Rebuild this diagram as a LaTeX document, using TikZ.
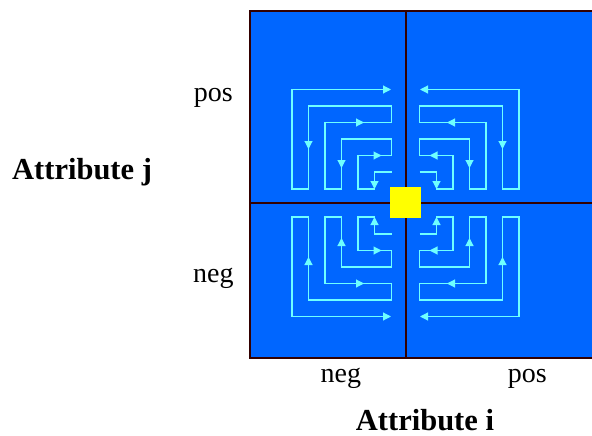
\documentclass[tikz,border=0pt]{standalone}
\usepackage{fontspec}
\setmainfont{Liberation Serif}
\usetikzlibrary{arrows.meta}
\definecolor{bgblue}{RGB}{0,102,255}
\definecolor{edge}{RGB}{51,0,0}
\definecolor{flow}{RGB}{110,255,255}
\definecolor{hub}{RGB}{255,255,0}
\tikzset{
  flowline/.style={draw=flow, line width=1.1pt, line join=miter},
  flowtip/.style={draw=flow, line width=1.1pt, -{Triangle[length=8pt,width=8pt,fill=flow]}},
  axislabel/.style={inner sep=0pt, font=\fontsize{28}{28}\selectfont},
  titlelabel/.style={inner sep=0pt, font=\fontsize{30.5}{30.5}\selectfont\bfseries},
}
\newcommand{\spiralquad}{%
  \draw[flowline] (14,31) -- (31,31) -- (31,14) -- (47.5,14) -- (47.5,47.5) -- (14,47.5)
    -- (14,64) -- (64,64) -- (64,14) -- (80.5,14) -- (80.5,80.5) -- (14,80.5)
    -- (14,97) -- (97,97) -- (97,14) -- (113.5,14) -- (113.5,113.5) -- (20,113.5);
  \draw[flowtip] (31,21) -- (31,14);
  \draw[flowtip] (31,47.5) -- (24,47.5);
  \draw[flowtip] (64,42) -- (64,35);
  \draw[flowtip] (48.5,80.5) -- (41.5,80.5);
  \draw[flowtip] (97,61) -- (97,54);
  \draw[flowtip] (21,113.5) -- (14.5,113.5);
}
\begin{document}
\begin{tikzpicture}[x=1pt,y=-1pt]
\useasboundingbox (0,0) rectangle (592,436);
\begin{scope}
\clip (0,0) rectangle (592,436);
\draw[fill=bgblue, draw=edge, line width=2pt] (250,11.3) rectangle (600,358.3);
\end{scope}
\coordinate (c) at (405.5,203);
\draw[edge, line width=2pt] (406,11.3) -- (406,358.3);
\draw[edge, line width=2pt] (250,203) -- (592,203);
\begin{scope}[shift={(c)}, xscale=-1, yscale=-1]\spiralquad\end{scope}
\begin{scope}[shift={(c)}, xscale=1, yscale=-1]\spiralquad\end{scope}
\begin{scope}[shift={(c)}, xscale=-1, yscale=1]\spiralquad\end{scope}
\begin{scope}[shift={(c)}, xscale=1, yscale=1]\spiralquad\end{scope}
\node[fill=hub, minimum size=31pt, inner sep=0pt] (hubsq) at (405.5,202) {};
\node[titlelabel, anchor=base west] (attj) at (12,179) {Attribute j};
\node[axislabel, anchor=base] (jpos) at (213.3,101.7) {pos};
\node[axislabel, anchor=base] (jneg) at (213.3,282.7) {neg};
\node[axislabel, anchor=base] (ineg) at (340.8,382.3) {neg};
\node[axislabel, anchor=base] (ipos) at (527.3,382.3) {pos};
\node[titlelabel, anchor=base] (atti) at (425,430.5) {Attribute i};
\end{tikzpicture}
\end{document}
